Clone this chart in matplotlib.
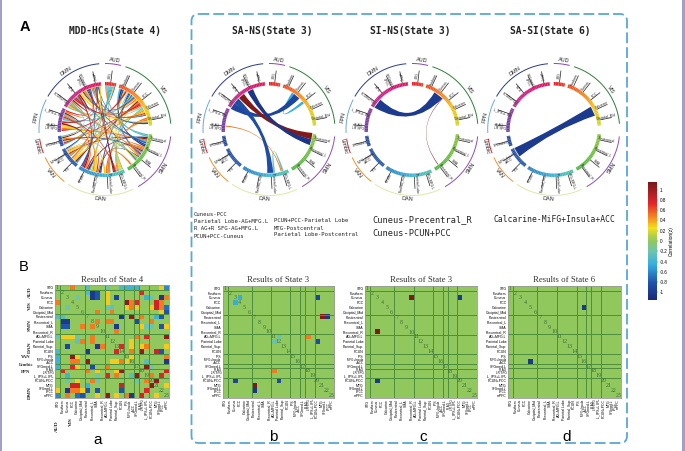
import numpy as np
import matplotlib
matplotlib.use('Agg')
import matplotlib.pyplot as plt
from matplotlib.cm import ScalarMappable
from matplotlib.colors import LinearSegmentedColormap, Normalize
from matplotlib.path import Path
from matplotlib.patches import PathPatch, Polygon, Rectangle, FancyBboxPatch

W, H = 685, 451

# regions
nodes = ['STG', 'Fusiform', 'Cuneus', 'PCC', 'Calcarine', 'Occipital_Mid', 'Postcentral',
         'Precentral_L', 'SMA', 'Precentral_R', 'AG+MFG.L', 'Parietal Lobe', 'Parietal_Sup',
         'PCUN', 'IPS', 'MiFG+Insula\n+ACC', 'SFGmed.L', 'R_AG\nLR SFG', 'L_IPS+L IPL', 'PCUN+PCC',
         'MTG', 'SFGmed.L\nLPCC', 'mPFC']
net_names = ['AUD', 'VIS', 'SMN', 'DAN', 'VAN', 'Limbic', 'FPN', 'DMN']
net_sizes = [1, 5, 4, 4, 2, 1, 2, 4]
net_start = [0, 18, 96, 155, 218, 249, 267, 300]
net_end = [14, 85, 150, 214, 245, 262, 297, 355]
net_colors = ['#8e44ad', '#2e7d3b', '#8a4fb5', '#dfe8a8', '#f0902a', '#d8232a', '#6fa8d8', '#2a3a8a']
net_label_ang = [8, 55, 123, 184, 231, 256, 280, 326]

# state 4 matrix, upper triangle as (row, col), values next to it
s4_cells = [(0, 3), (0, 6), (0, 10), (0, 13), (0, 14), (0, 15), (0, 16), (0, 21), (0, 22),
            (1, 6), (1, 7), (1, 8), (1, 10), (1, 17), (2, 4), (2, 7), (2, 8), (2, 10), (2, 12),
            (2, 18), (2, 19), (2, 21), (2, 22), (3, 10), (3, 14), (3, 15), (3, 16), (3, 20),
            (3, 21), (4, 10), (4, 11), (4, 14), (4, 15), (4, 16), (4, 19), (4, 20), (4, 21),
            (4, 22), (5, 8), (5, 11), (5, 21), (6, 13), (6, 15), (6, 17), (6, 20), (6, 21),
            (7, 8), (7, 10), (7, 11), (7, 16), (7, 19), (8, 12), (8, 17), (8, 18), (8, 19),
            (8, 21), (8, 22), (9, 12), (10, 16), (10, 18), (10, 22), (11, 15), (12, 13),
            (12, 15), (12, 17), (12, 18), (13, 15), (13, 17), (13, 20), (13, 21), (14, 15),
            (14, 22), (15, 18), (15, 22), (16, 18), (16, 19), (17, 22), (18, 19), (19, 20),
            (5, 22), (10, 22), (12, 22), (20, 22), (18, 21)]
s4_vals = [0.5, -0.3, -0.2, -0.35, -0.4, -0.4, -0.4, 0.3, -0.6,
           -0.3, -1.0, -0.8, 0.3, 0.75, -0.2, -1.0, -0.8, 0.3, -0.9,
           -0.4, -0.2, -1.0, 0.5, 0.3, 1.05, 0.5, 0.75, 0.8,
           0.5, -0.2, -0.25, 0.3, 0.5, 0.3, 0.3, 0.8, 0.5,
           -0.7, 0.5, 0.5, 0.3, -1.0, 1.05, 0.5, -0.4, -0.8,
           0.5, 0.5, 0.5, -0.85, 0.5, -1.0, 0.3, -0.2, -0.2,
           -0.8, 0.3, 0.5, 0.5, 0.75, 1.05, 0.3, 0.75,
           0.3, 0.3, 0.5, 0.5, 1.05, 0.8, -0.8, 0.3,
           0.5, -0.3, -1.0, 1.05, -0.2, 0.8, 0.5, 1.05,
           -0.8, 1.05, 0.3, 0.3, 0.75]

# state 3 / 6 panels
sa_ns_cells = [(2, 3), (10, 11), (10, 17), (2, 19), (11, 19), (6, 20), (6, 21)]
sa_ns_vals = [-0.45, -0.22, 0.5, -0.9, -0.85, 1.1, -1.05]
sa_ns_width = [3.5, 2.5, 1.5, 9, 8, 8.5, 8]
si_ns_cells = [(2, 19), (2, 9)]
si_ns_vals = [-1.0, 1.1]
si_ns_width = [13, 0.8]
sa_si_cells = [(4, 15)]
sa_si_vals = [-1.0]
sa_si_width = [13]

bounds = [1, 6, 10, 14, 16, 17, 19]

cmap = LinearSegmentedColormap.from_list('corr', [
    (0.0, '#1b2a78'), (0.14, '#1f4fa8'), (0.30, '#35aee0'), (0.41, '#6cc3b0'), (0.5, '#90c860'),
    (0.55, '#b5d045'), (0.61, '#f3e01f'), (0.70, '#f58a1f'), (0.82, '#e3262b'), (1.0, '#761818')])
norm = Normalize(-1.15, 1.15)

ring_cmap_ang = [0, 18, 45, 60, 85, 96, 150, 155, 175, 214, 218, 262, 267, 297, 300, 330, 360]
ring_cmap_col = ['#e8212b', '#f04e23', '#f7941d', '#f5c518', '#c8d92b', '#8cc63f', '#4fb848',
                 '#55c0a0', '#40bcd8', '#2a7fc0', '#2a5cab', '#2b4ca0', '#6f3fa5', '#8e3fa0',
                 '#b5348f', '#d9177e', '#e01a4c']
ring_cmap = LinearSegmentedColormap.from_list(
    'ring', [(a / 360, c) for a, c in zip(ring_cmap_ang, ring_cmap_col)])

plt.rcParams['font.family'] = ['Liberation Sans', 'DejaVu Sans']
fig = plt.figure(figsize=(W / 100, H / 100), dpi=100)
bg = fig.add_axes([0, 0, 1, 1])
bg.set_xlim(0, W)
bg.set_ylim(H, 0)
bg.axis('off')

# node spans in degrees, clockwise from the top
node_span = []
for s, e, n in zip(net_start, net_end, net_sizes):
    step = (e - s) / n
    for i in range(n):
        node_span.append((s + i * step, s + (i + 1) * step))


def xy(cx, cy, r, a):
    a = np.radians(a)
    return cx + r * np.sin(a), cy - r * np.cos(a)


def draw_ring(cx, cy):
    for s, e, c, name, la in zip(net_start, net_end, net_colors, net_names, net_label_ang):
        t = np.linspace(s, e, 40)
        bg.plot(*xy(cx, cy, 66, t), color=c, lw=0.7, solid_capstyle='butt')
        rot = -la if (la < 90 or la > 270) else 180 - la
        tx, ty = xy(cx, cy, 70, la)
        bg.text(tx, ty, name, fontsize=4, rotation=rot, ha='center', va='center',
                rotation_mode='anchor', color='#222222')
        for a0 in np.arange(s, e, 2.0):
            t = np.linspace(a0, min(a0 + 2.1, e), 4)
            pts = np.column_stack(xy(cx, cy, 44, t))
            pts2 = np.column_stack(xy(cx, cy, 47.5, t[::-1]))
            bg.add_patch(Polygon(np.vstack([pts, pts2]), fc=ring_cmap(a0 / 360), ec='none', zorder=3))
    for name, (s, e) in zip(nodes, node_span):
        a = (s + e) / 2
        x0, y0 = xy(cx, cy, 47.5, a)
        x1, y1 = xy(cx, cy, 59, a)
        bg.plot([x0, x1], [y0, y1], color='#222222', lw=0.5, zorder=2)
        tx, ty = xy(cx, cy, 54, a - 1.6)
        rot = 90 - a if a < 180 else 270 - a
        bg.text(tx, ty, name, fontsize=2.4, rotation=rot, ha='center', va='center',
                rotation_mode='anchor', color='#222222', linespacing=0.8)


def draw_chords(cx, cy, cells, vals, widths, bend=1.0, fill=1.25):
    # spread the chord ends over each node so they do not sit on top of each other
    used = {i: 0.0 for i in range(len(nodes))}
    for (r, c), w in zip(cells, widths):
        used[r] += w
        used[c] += w
    pos = {}
    for i, (s, e) in enumerate(node_span):
        k = min(1.0, (e - s) * fill / used[i]) if used[i] else 1.0
        pos[i] = ((s + e) / 2 - used[i] * k / 2, k)
    for (r, c), v, w in zip(cells, vals, widths):
        ends = []
        for n in (r, c):
            a0, k = pos[n]
            ends.append((a0, a0 + w * k))
            pos[n] = (a0 + w * k, k)
        (a1, a2), (b1, b2) = ends
        pa1, pa2 = xy(cx, cy, 43.5, a1), xy(cx, cy, 43.5, a2)
        pb1, pb2 = xy(cx, cy, 43.5, b1), xy(cx, cy, 43.5, b2)
        c1 = (bend * cx + (1 - bend) * (pa2[0] + pb1[0]) / 2, bend * cy + (1 - bend) * (pa2[1] + pb1[1]) / 2)
        c2 = (bend * cx + (1 - bend) * (pb2[0] + pa1[0]) / 2, bend * cy + (1 - bend) * (pb2[1] + pa1[1]) / 2)
        p = [pa1, pa2, c1, pb1, pb2, c2, pa1]
        codes = [Path.MOVETO, Path.LINETO, Path.CURVE3, Path.CURVE3, Path.LINETO, Path.CURVE3, Path.CURVE3]
        bg.add_patch(PathPatch(Path(p, codes), fc=cmap(norm(v)), ec='none', zorder=1))


def draw_matrix(box, cells, vals, title, tick_fs=2.5):
    x0, y0, x1, y1 = box
    ax = fig.add_axes([x0 / W, 1 - y1 / H, (x1 - x0) / W, (y1 - y0) / H])
    m = np.zeros((len(nodes), len(nodes)))
    for (r, c), v in zip(cells, vals):
        m[r, c] = v
        m[c, r] = v
    ax.imshow(m, cmap=cmap, norm=norm, aspect='auto', interpolation='nearest')
    for b in bounds:
        ax.axhline(b - 0.5, color='#4c8f3c', lw=0.7)
        ax.axvline(b - 0.5, color='#4c8f3c', lw=0.7)
    for i in range(len(nodes)):
        ax.text(i, i, str(i + 1), fontsize=4.3, family='Liberation Serif', color='#3d6f3a',
                ha='center', va='center')
    ax.set_xticks(range(len(nodes)))
    ax.set_yticks(range(len(nodes)))
    ax.set_xticklabels(nodes, rotation=90, fontsize=tick_fs)
    ax.set_yticklabels(nodes, fontsize=tick_fs)
    for lab in ax.get_xticklabels() + ax.get_yticklabels():
        if '\n' in lab.get_text():
            lab.set_fontsize(2.2)
            lab.set_linespacing(0.75)
    ax.tick_params(length=0, pad=1)
    for sp in ax.spines.values():
        sp.set_color('#9a9a9a')
        sp.set_linewidth(0.6)
    ax.set_title(title, fontsize=6.3, family='Liberation Serif', color='#333333', pad=2.5)
    return ax


# chord rings
s4_width = [2.2] * len(s4_cells)
for cx, cells, vals, widths, bend, fill in [(105, s4_cells, s4_vals, s4_width, 0.9, 0.95),
                                            (269, sa_ns_cells, sa_ns_vals, sa_ns_width, 1.0, 1.25),
                                            (412, si_ns_cells, si_ns_vals, si_ns_width, 1.0, 1.25),
                                            (553.7, sa_si_cells, sa_si_vals, sa_si_width, 1.0, 1.25)]:
    draw_ring(cx, 129.5)
    draw_chords(cx, 129.5, cells, vals, widths, bend, fill)

# matrices
draw_matrix((55, 285, 169, 398), s4_cells, s4_vals, 'Results of State 4')
draw_matrix((222.7, 285.7, 334, 397.7), sa_ns_cells, sa_ns_vals, 'Results of State 3')
draw_matrix((365, 285.7, 476.7, 398), si_ns_cells, si_ns_vals, 'Results of State 3')
draw_matrix((508, 285.7, 620.7, 397.7), sa_si_cells, sa_si_vals, 'Results of State 6')

# network labels beside matrix a
side_labels = ['AUD', 'VIS', 'SMN', 'DAN', 'VAN', 'Limbic', 'FPN', 'DMN']
side_y = [292, 306, 325, 347, 357, 365, 372, 393]
for s, y in zip(side_labels, side_y):
    small = s in ('VAN', 'Limbic', 'FPN')
    bg.text(26 if small else 30, y, s, fontsize=3.4 if small else 3.9, family='Liberation Serif', weight='bold',
            rotation=0 if small else 90, ha='center', va='center', color='#222222')
bg.text(57, 426, 'AUD', fontsize=3.9, family='Liberation Serif', weight='bold', rotation=90,
        ha='center', va='center', color='#222222')
bg.text(71, 422, 'VIS', fontsize=3.9, family='Liberation Serif', weight='bold', rotation=90,
        ha='center', va='center', color='#222222')

# headers and captions
for x, s in [(115, 'MDD-HCs(State 4)'), (272, 'SA-NS(State 3)'), (410, 'SI-NS(State 3)'), (550, 'SA-SI(State 6)')]:
    bg.text(x, 31.5, s, fontsize=6.9, family='DejaVu Sans Mono', weight='bold', ha='center', va='center', color='#222222')
bg.text(25, 27, 'A', fontsize=10.5, weight='bold', ha='center', va='center')
bg.text(24, 267, 'B', fontsize=10.5, ha='center', va='center')
for x, y, s in [(98, 440, 'a'), (273, 437, 'b'), (423, 437, 'c'), (567, 437, 'd')]:
    bg.text(x, y, s, fontsize=11, ha='center', va='center')

left_notes = ['Cuneus-PCC', 'Parietal Lobe-AG+MFG.L', 'R AG+R SFG-AG+MFG.L', 'PCUN+PCC-Cuneus']
for y, s in zip([214, 221.5, 229, 236], left_notes):
    bg.text(194, y, s, fontsize=4.1, family='DejaVu Sans Mono', va='center', color='#222222')
right_notes = ['PCUN+PCC-Parietal Lobe', 'MTG-Postcentral', 'Parietal Lobe-Postcentral']
for y, s in zip([220.7, 228, 235], right_notes):
    bg.text(274, y, s, fontsize=4.1, family='DejaVu Sans Mono', va='center', color='#222222')
for y, s in zip([220, 234], ['Cuneus-Precentral_R', 'Cuneus-PCUN+PCC']):
    bg.text(372, y, s, fontsize=6.2, family='DejaVu Sans Mono', va='center', color='#222222')
bg.text(494, 220, 'Calcarine-MiFG+Insula+ACC', fontsize=5.8, family='DejaVu Sans Mono', va='center', color='#222222')

# dashed frame and page edges
bg.add_patch(FancyBboxPatch((191.5, 14), 435.5, 429, boxstyle='round,pad=0,rounding_size=7',
                            fc='none', ec='#5ba8d2', lw=1.3, ls=(0, (6, 2.2))))
bg.add_patch(Rectangle((0, 0), 2.5, H, fc='#a0a0cc', ec='none'))
bg.add_patch(Rectangle((682, 0), 3, H, fc='#a0a0cc', ec='none'))

# colorbar
cax = fig.add_axes([647.7 / W, 1 - 300 / H, 9.3 / W, 118 / H])
cb = fig.colorbar(ScalarMappable(norm=norm, cmap=cmap), cax=cax)
cb.set_ticks([1, 0.8, 0.6, 0.4, 0.2, 0, -0.2, -0.4, -0.6, -0.8, -1])
cb.set_ticklabels(['1', '0.8', '0.6', '0.4', '0.2', '0', '-0.2', '-0.4', '-0.6', '-0.8', '-1'])
cb.ax.tick_params(labelsize=3.3, length=1, width=0.3, pad=1)
cb.outline.set_visible(False)
cb.set_label('Correlation(z)', fontsize=3.5, labelpad=1)

fig.savefig('out.png', dpi=100)
